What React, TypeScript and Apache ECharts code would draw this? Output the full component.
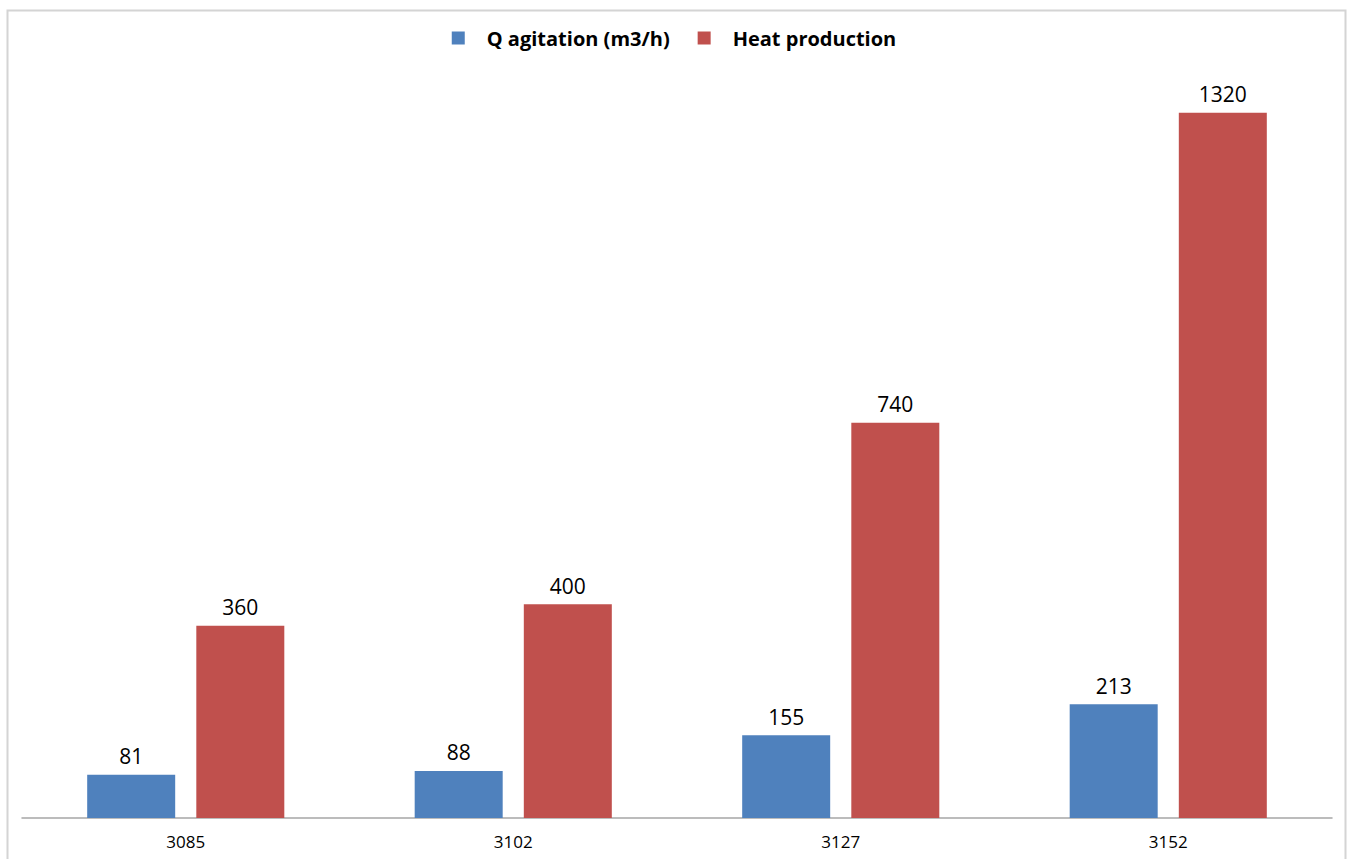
import React, { useEffect, useRef } from "react";
import * as echarts from "echarts";

const categories = ["3085", "3102", "3127", "3152"];
const qAgitation = [81, 88, 155, 213];
const heatProduction = [360, 400, 740, 1320];
const seriesNames = ["Q agitation (m3/h)", "Heat production"];

export default function App() {
  const ref = useRef<HTMLDivElement>(null);
  useEffect(() => {
    if (!ref.current) return;
    const chart = echarts.init(ref.current, undefined, { renderer: "svg" });
    const font = "'Open Sans', 'DejaVu Sans', sans-serif";
    const label = {
      show: true,
      position: "top",
      distance: 8,
      color: "#000",
      fontSize: 21,
      fontFamily: font,
    };
    chart.setOption({
      animation: false,
      backgroundColor: "#fff",
      graphic: [
        {
          type: "rect",
          shape: { x: 7.5, y: 10.5, width: 1338, height: 870 },
          style: { fill: "none", stroke: "#D4D4D4", lineWidth: 2 },
          silent: true,
        },
      ],
      legend: {
        top: 23,
        left: "center",
        itemWidth: 13,
        itemHeight: 13,
        itemGap: 28,
        icon: "rect",
        textStyle: {
          fontSize: 20,
          fontWeight: "bold",
          color: "#000",
          fontFamily: font,
          padding: [0, 0, 0, 17],
        },
        data: seriesNames,
      },
      grid: { left: 22, right: 16, top: 70, bottom: 41, containLabel: false },
      xAxis: {
        type: "category",
        data: categories,
        axisLine: { lineStyle: { color: "#A6A6A6", width: 1.5 } },
        axisTick: { show: false },
        axisLabel: { fontSize: 17, color: "#000", fontFamily: font, margin: 15 },
      },
      yAxis: {
        type: "value",
        min: 0,
        max: 1400,
        show: false,
        splitLine: { show: false },
      },
      series: [
        {
          name: seriesNames[0],
          type: "bar",
          data: qAgitation,
          barWidth: 88,
          barGap: "24%",
          itemStyle: { color: "#4F81BD" },
          label,
        },
        {
          name: seriesNames[1],
          type: "bar",
          data: heatProduction,
          barWidth: 88,
          barGap: "24%",
          itemStyle: { color: "#C0504D" },
          label,
        },
      ],
    });
    return () => chart.dispose();
  }, []);
  return (
    <div
      ref={ref}
      style={{ position: "absolute", left: 0, top: 0, width: 1348, height: 859 }}
    />
  );
}
